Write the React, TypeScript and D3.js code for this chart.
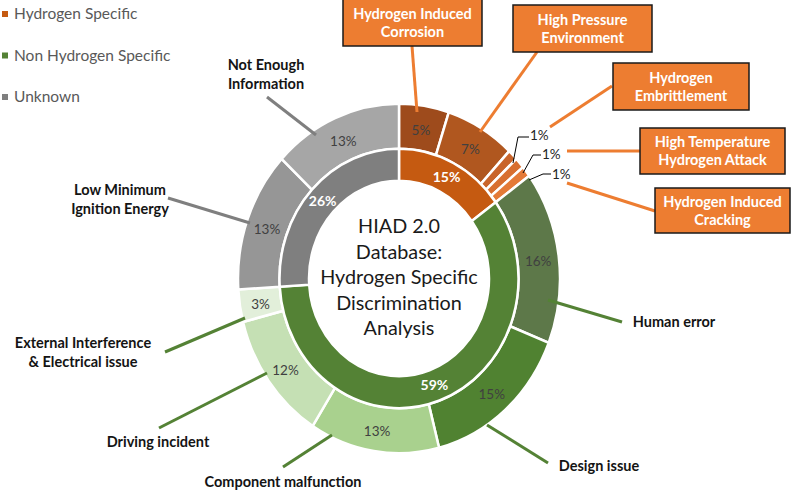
import * as d3 from "d3";

// ---- data ----
const groups = ["Hydrogen Specific", "Non Hydrogen Specific", "Unknown"];
const groupValues = [15, 59, 26];

const causes = [
  "Hydrogen Induced Corrosion",
  "High Pressure Environment",
  "Hydrogen Embrittlement",
  "High Temperature Hydrogen Attack",
  "Hydrogen Induced Cracking",
  "Human error",
  "Design issue",
  "Component malfunction",
  "Driving incident",
  "External Interference & Electrical issue",
  "Low Minimum Ignition Energy",
  "Not Enough Information",
];
const causeValues = [5, 7, 1, 1, 1, 16, 15, 13, 12, 3, 13, 13];
const causeGroup = [0, 0, 0, 0, 0, 1, 1, 1, 1, 1, 2, 2];

// ---- styles ----
const groupColors = ["#C55A11", "#548235", "#7F7F7F"];
const leaderColors = ["#ED7D31", "#548235", "#7F7F7F"];
const causeColors = [
  "#9E4B1C", "#B0571F", "#C9642A", "#D86F30", "#E47A37",
  "#5D7849", "#508231", "#A9D18E", "#C5E0B4", "#E2EFDA",
  "#969696", "#A6A6A6",
];

// ---- layout ----
const W = 800;
const H = 495;
const cx = 399;
const cy = 278.5;
const ky = 1.085;
const rHole = 90;
const rMid = 119.5;
const rOuter = 161;
const FONT = "Lato, 'Open Sans', sans-serif";

// callout boxes for hydrogen specific causes
const boxes: Record<string, { x: number; y: number; w: number; h: number; lines: string[] }> = {
  "Hydrogen Induced Corrosion": { x: 343, y: -1, w: 139, h: 47, lines: ["Hydrogen Induced", "Corrosion"] },
  "High Pressure Environment": { x: 513, y: 5, w: 139, h: 47, lines: ["High Pressure", "Environment"] },
  "Hydrogen Embrittlement": { x: 613, y: 63, w: 136, h: 47, lines: ["Hydrogen", "Embrittlement"] },
  "High Temperature Hydrogen Attack": { x: 640, y: 128, w: 145, h: 46, lines: ["High Temperature", "Hydrogen Attack"] },
  "Hydrogen Induced Cracking": { x: 655, y: 188, w: 135, h: 45, lines: ["Hydrogen Induced", "Cracking"] },
};

// plain text labels for the other causes
const textLabels: Record<string, { x: number; y: number; lines: string[] }> = {
  "Human error": { x: 674, y: 322, lines: ["Human error"] },
  "Design issue": { x: 599, y: 466, lines: ["Design issue"] },
  "Component malfunction": { x: 283, y: 482, lines: ["Component malfunction"] },
  "Driving incident": { x: 158, y: 442, lines: ["Driving incident"] },
  "External Interference & Electrical issue": { x: 83, y: 343, lines: ["External Interference", "& Electrical issue"] },
  "Low Minimum Ignition Energy": { x: 120, y: 190, lines: ["Low Minimum", "Ignition Energy"] },
  "Not Enough Information": { x: 266, y: 65, lines: ["Not Enough", "Information"] },
};

// leader lines [x1, y1, x2, y2]
const leaders: Record<string, number[]> = {
  "Hydrogen Induced Corrosion": [412, 46, 417, 112],
  "High Pressure Environment": [537, 52, 480, 132],
  "Hydrogen Embrittlement": [612, 86, 550, 127],
  "High Temperature Hydrogen Attack": [640, 151, 567, 151],
  "Hydrogen Induced Cracking": [655, 211, 567, 183],
  "Human error": [622, 322, 548, 300],
  "Design issue": [548, 463, 487, 425],
  "Component malfunction": [283, 467, 332, 435],
  "Driving incident": [159, 428, 267, 373],
  "External Interference & Electrical issue": [165, 352, 245, 318],
  "Low Minimum Ignition Energy": [168, 198, 250, 223],
  "Not Enough Information": [267, 97, 316, 135],
};

// small "1%" labels placed outside with black leaders
const smallLabels: Record<string, { pts: number[][]; tx: number; ty: number }> = {
  "Hydrogen Embrittlement": { pts: [[513, 163], [518, 137], [529, 137]], tx: 530, ty: 135 },
  "High Temperature Hydrogen Attack": { pts: [[523, 173], [533, 155], [541, 155]], tx: 542, ty: 154 },
  "Hydrogen Induced Cracking": { pts: [[529, 180], [543, 174], [551, 174]], tx: 552, ty: 174 },
};

const centerLines = ["HIAD 2.0", "Database:", "Hydrogen Specific", "Discrimination", "Analysis"];

export default function App() {
  const pie = d3
    .pie<number>()
    .sort(null)
    .value((d) => d)
    .startAngle(0)
    .endAngle(2 * Math.PI);

  const innerArcs = pie(groupValues);
  const outerArcs = pie(causeValues);

  const innerArc = d3.arc<d3.PieArcDatum<number>>().innerRadius(rHole).outerRadius(rMid);
  const outerArc = d3.arc<d3.PieArcDatum<number>>().innerRadius(rMid).outerRadius(rOuter);

  const place = (c: [number, number]) => [cx + c[0], cy + c[1] * ky];

  return (
    <div style={{ position: "fixed", left: 0, top: 0, width: W, height: H, background: "#fff" }}>
      <svg width={W} height={H} style={{ display: "block", fontFamily: FONT }}>
        {/* legend */}
        {groups.map((g, i) => (
          <g key={g} transform={`translate(0, ${14 + i * 41.5})`}>
            <rect x={2} y={-3} width={6} height={6} fill={groupColors[i]} />
            <text x={14} y={0} dy="0.35em" fontSize={15.5} fill="#595959">
              {g}
            </text>
          </g>
        ))}

        {/* rings */}
        <g transform={`translate(${cx},${cy}) scale(1,${ky})`}>
          {outerArcs.map((a, i) => (
            <path
              key={"o" + i}
              d={outerArc(a) || ""}
              fill={causeColors[i]}
              stroke="#fff"
              strokeWidth={2.5}
              vectorEffect="non-scaling-stroke"
            />
          ))}
          {innerArcs.map((a, i) => (
            <path
              key={"i" + i}
              d={innerArc(a) || ""}
              fill={groupColors[i]}
              stroke="#fff"
              strokeWidth={2.5}
              vectorEffect="non-scaling-stroke"
            />
          ))}
        </g>

        {/* inner percentage labels */}
        {innerArcs.map((a, i) => {
          const [x, y] = place(innerArc.centroid(a) as [number, number]);
          return (
            <text key={"il" + i} x={x} y={y} textAnchor="middle" dy="0.35em" fontSize={14} fontWeight={700} fill="#fff">
              {groupValues[i]}%
            </text>
          );
        })}

        {/* outer percentage labels */}
        {outerArcs.map((a, i) => {
          if (smallLabels[causes[i]]) return null;
          const [x, y] = place(outerArc.centroid(a) as [number, number]);
          return (
            <text key={"ol" + i} x={x} y={y + 2} textAnchor="middle" dy="0.35em" fontSize={13.5} fill="#404040">
              {causeValues[i]}%
            </text>
          );
        })}

        {/* small 1% labels */}
        {causes.map((c, i) => {
          const s = smallLabels[c];
          if (!s) return null;
          return (
            <g key={"s" + i}>
              <polyline points={s.pts.map((p) => p.join(",")).join(" ")} fill="none" stroke="#000" strokeWidth={1} />
              <text x={s.tx} y={s.ty} dy="0.35em" fontSize={13.5} fill="#262626">
                {causeValues[i]}%
              </text>
            </g>
          );
        })}

        {/* leader lines */}
        {causes.map((c, i) => {
          const l = leaders[c];
          return (
            <line
              key={"ld" + i}
              x1={l[0]}
              y1={l[1]}
              x2={l[2]}
              y2={l[3]}
              stroke={leaderColors[causeGroup[i]]}
              strokeWidth={3}
            />
          );
        })}

        {/* callout boxes */}
        {causes.map((c) => {
          const b = boxes[c];
          if (!b) return null;
          return (
            <g key={"b" + c}>
              <rect x={b.x} y={b.y} width={b.w} height={b.h} fill="#ED7D31" stroke="#1a1a1a" strokeWidth={1.5} />
              {b.lines.map((ln, j) => (
                <text
                  key={j}
                  x={b.x + b.w / 2}
                  y={b.y + b.h / 2 + (j - (b.lines.length - 1) / 2) * 18}
                  dy="0.35em"
                  textAnchor="middle"
                  fontSize={14.5}
                  fontWeight={700}
                  fill="#fff"
                >
                  {ln}
                </text>
              ))}
            </g>
          );
        })}

        {/* text labels */}
        {causes.map((c) => {
          const t = textLabels[c];
          if (!t) return null;
          return (
            <g key={"t" + c}>
              {t.lines.map((ln, j) => (
                <text
                  key={j}
                  x={t.x}
                  y={t.y + j * 18.5}
                  dy="0.35em"
                  textAnchor="middle"
                  fontSize={14.5}
                  fontWeight={700}
                  fill="#141414"
                >
                  {ln}
                </text>
              ))}
            </g>
          );
        })}

        {/* center title */}
        {centerLines.map((ln, j) => (
          <text
            key={"c" + j}
            x={cx}
            y={cy + (j - 2) * 25.5 - 1}
            dy="0.35em"
            textAnchor="middle"
            fontSize={19.8}
            fill="#1a1a1a"
          >
            {ln}
          </text>
        ))}
      </svg>
    </div>
  );
}
